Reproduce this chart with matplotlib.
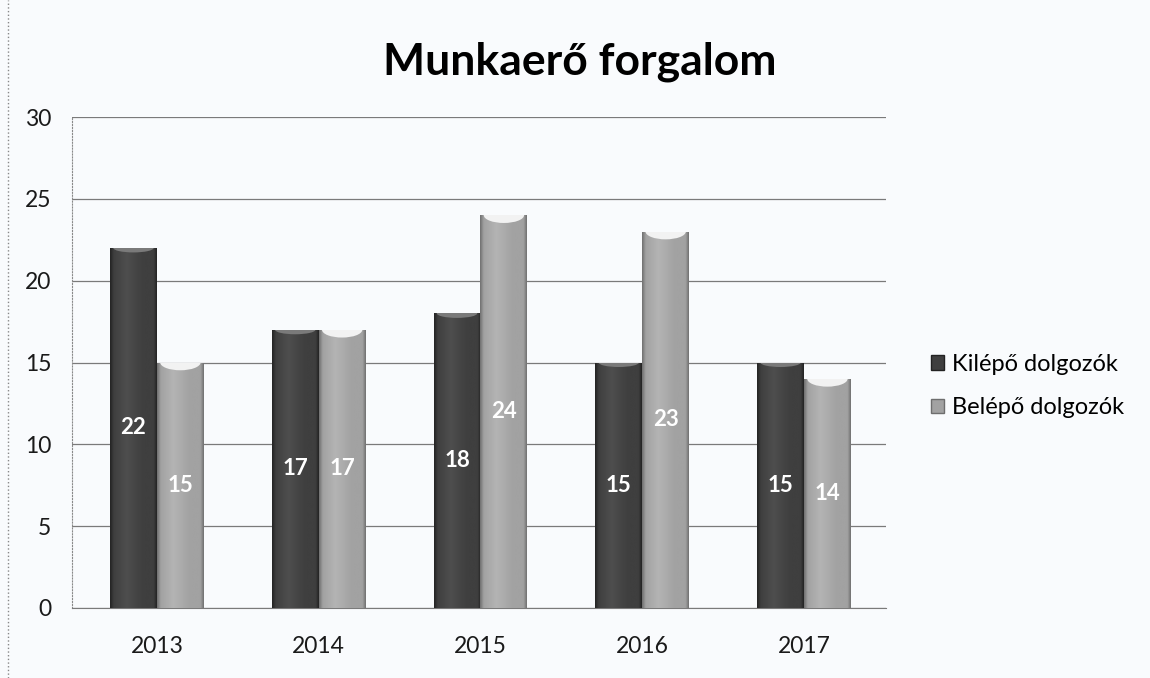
import matplotlib
matplotlib.use("Agg")
import matplotlib.pyplot as plt
import numpy as np
from matplotlib.patches import Patch, Ellipse
from matplotlib.colors import LinearSegmentedColormap

years = ["2013", "2014", "2015", "2016", "2017"]
kilepo = [22, 17, 18, 15, 15]
belepo = [15, 17, 24, 23, 14]
series_names = ["Kilépő dolgozók", "Belépő dolgozók"]

plt.rcParams['font.family'] = ['Lato', 'DejaVu Sans']

fig = plt.figure(figsize=(11.5, 6.78), dpi=100)
fig.patch.set_facecolor('#f9fbfd')
ax = fig.add_axes([72 / 1150, 1 - 608 / 678, (886 - 72) / 1150, (608 - 117) / 678])
ax.set_facecolor('#f9fbfd')

x = np.arange(len(years))
w = 0.29
off = 0.145

def grad_cmap(edge, hi, mid):
    return LinearSegmentedColormap.from_list('g', [(0, edge), (0.08, mid), (0.35, hi), (0.7, mid), (0.93, mid), (1, edge)])

cm_dark = grad_cmap('#222222', '#4e4e4e', '#3f3f3f')
cm_light = grad_cmap('#6e6e6e', '#b4b4b4', '#a2a2a2')

bars1 = ax.bar(x - off, kilepo, w, color='#3f3f3f', zorder=3)
bars2 = ax.bar(x + off, belepo, w, color='#a2a2a2', zorder=3)

grad = np.linspace(0, 1, 256).reshape(1, -1)
for bars, cm, capc, caph in ((bars1, cm_dark, '#7a7a7a', 0.55), (bars2, cm_light, '#f2f2f2', 0.95)):
    for b in bars:
        x0, y0 = b.get_x(), b.get_y()
        bw, bh = b.get_width(), b.get_height()
        im = ax.imshow(grad, extent=[x0, x0 + bw, y0, y0 + bh], aspect='auto',
                       cmap=cm, zorder=4, interpolation='bicubic')
        im.set_clip_path(b)
        cap = Ellipse((x0 + bw / 2, y0 + bh), bw * 0.86, caph, facecolor=capc,
                      edgecolor='none', zorder=5)
        ax.add_patch(cap)
        cap.set_clip_path(b)

for bars, vals in ((bars1, kilepo), (bars2, belepo)):
    for b, v in zip(bars, vals):
        ax.text(b.get_x() + b.get_width() / 2, v / 2, str(v), ha='center', va='center',
                color='white', fontsize=16, fontweight='bold', zorder=6)

ax.set_xlim(-0.525, 4.507)
ax.set_ylim(0, 30)
ax.set_yticks(range(0, 31, 5))
ax.set_xticks(x)
ax.set_xticklabels(years)
ax.tick_params(axis='both', labelsize=16.5, length=0, colors='#1a1a1a')
ax.tick_params(axis='x', pad=20)
ax.tick_params(axis='y', pad=15)
ax.yaxis.grid(True, color='#7a7a7a', linewidth=0.9, zorder=0)
for s in ['top', 'right']:
    ax.spines[s].set_visible(False)
ax.spines['left'].set_color('#8a8a8a')
ax.spines['left'].set_linestyle(':')
ax.spines['bottom'].set_color('#7a7a7a')

fig.text(580 / 1150, 1 - 62 / 678, "Munkaerő forgalom", ha='center', va='center',
         fontsize=32, fontweight='bold')

handles = [Patch(facecolor='#3f3f3f', edgecolor='#222222'),
           Patch(facecolor='#a2a2a2', edgecolor='#6e6e6e')]
fig.legend(handles, series_names, loc='center left', bbox_to_anchor=(0.791, 1 - 386 / 678),
           frameon=False, fontsize=17, handlelength=0.55, handleheight=0.55,
           handletextpad=0.35, labelspacing=0.95)

fig.add_artist(plt.Line2D([0.007, 0.007], [0.0, 1.0], color='#888888',
                          linestyle=':', linewidth=1, transform=fig.transFigure))

fig.savefig("out.png", dpi=100)
